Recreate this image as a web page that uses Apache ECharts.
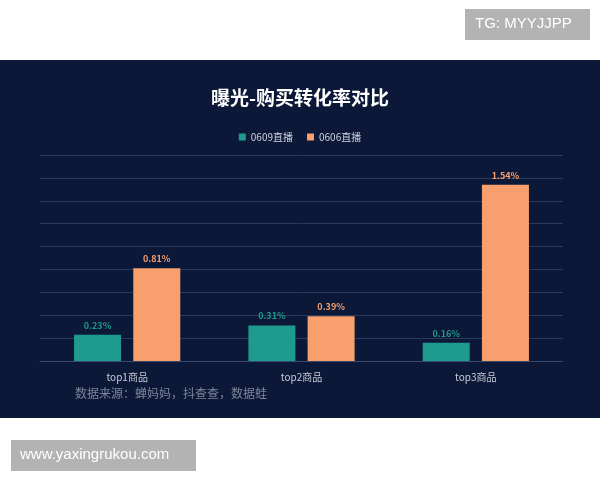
<!DOCTYPE html>
<html><head><meta charset="utf-8">
<script src="https://cdn.jsdelivr.net/npm/echarts@6/dist/echarts.min.js"></script>
<style>html,body{margin:0;background:#fff}#graph{width:600px;height:480px}</style>
</head><body><div id="graph"></div>
<script>
var categories = ['top1商品', 'top2商品', 'top3商品'];
var live0609 = [0.23, 0.31, 0.16];
var live0606 = [0.81, 0.39, 1.54];

var chart = echarts.init(document.getElementById('graph'));
var font = '"Noto Sans CJK SC", sans-serif';

chart.setOption({
    textStyle: { fontFamily: font },
    graphic: [
        { type: 'rect', z: -10, shape: { x: 0, y: 60, width: 600, height: 358 }, style: { fill: '#0b1838' } },
        { type: 'rect', shape: { x: 465, y: 9, width: 125, height: 31 }, style: { fill: '#b3b3b3' } },
        { type: 'text', left: 475, top: 16, style: { text: 'TG: MYYJJPP', fill: '#fff', font: '15px "Liberation Sans"' } },
        { type: 'rect', shape: { x: 11, y: 440, width: 185, height: 31 }, style: { fill: '#b3b3b3' } },
        { type: 'text', left: 20, top: 447, style: { text: 'www.yaxingrukou.com', fill: '#fff', font: '15px "Liberation Sans"' } },
        { type: 'text', left: 75, top: 387, style: { text: '数据来源：蝉妈妈，抖查查，数据蛙', fill: '#7d8598', font: '12px ' + font } }
    ],
    title: {
        text: '曝光-购买转化率对比',
        left: 'center', top: 83,
        textStyle: { color: '#fff', fontSize: 19, fontWeight: 'bold', fontFamily: font }
    },
    legend: {
        top: 127, left: 'center', itemWidth: 7, itemHeight: 7, itemGap: 14,
        icon: 'rect',
        textStyle: { color: '#d0d4de', fontSize: 10 },
        data: ['0609直播', '0606直播']
    },
    grid: { left: 40, right: 37, top: 155, bottom: 119 },
    xAxis: {
        type: 'category', data: categories,
        axisLine: { lineStyle: { color: '#3a4a6c' } },
        axisTick: { show: false },
        axisLabel: { color: '#c8ccd6', fontSize: 10, margin: 11 }
    },
    yAxis: {
        type: 'value', min: 0, max: 1.8, interval: 0.2,
        axisLabel: { show: false },
        splitLine: { lineStyle: { color: '#2a3a5c' } }
    },
    series: [
        {
            name: '0609直播', type: 'bar', data: live0609, barWidth: 47, barGap: '26%',
            itemStyle: { color: '#1e9a8e' },
            label: { show: true, position: 'top', formatter: '{c}%', color: '#1e9a8e', fontSize: 9, fontWeight: 'bold' }
        },
        {
            name: '0606直播', type: 'bar', data: live0606, barWidth: 47,
            itemStyle: { color: '#f7a06e' },
            label: { show: true, position: 'top', formatter: '{c}%', color: '#f7a06e', fontSize: 9, fontWeight: 'bold' }
        }
    ]
});
</script></body></html>
